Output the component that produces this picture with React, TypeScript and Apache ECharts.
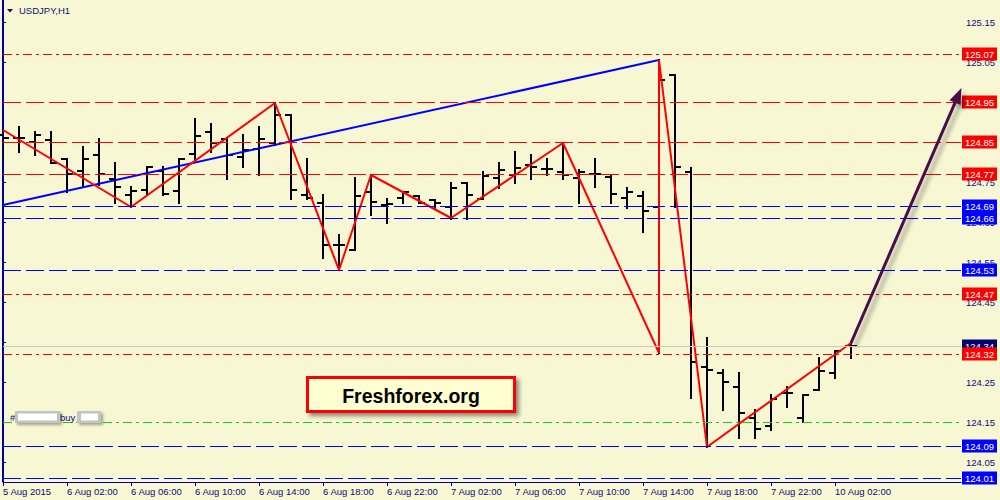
import React, { useEffect, useRef } from "react";
import * as echarts from "echarts";

// ---- data ----
const opens = [124.868,124.86,124.85,124.855,124.808,124.778,124.818,124.758,124.718,124.73,124.778,124.728,124.82,124.875,124.858,124.813,124.833,124.848,124.918,124.718,124.698,124.593,124.58,124.725,124.693,124.71,124.715,124.705,124.688,124.748,124.708,124.76,124.768,124.793,124.783,124.775,124.76,124.77,124.763,124.71,124.715,124.688,125.018,124.775,124.288,124.273,124.238,124.16,124.14,124.223,124.16,124.23,124.273,124.34];
const highs = [124.885,124.888,124.875,124.875,124.808,124.838,124.858,124.798,124.738,124.788,124.788,124.808,124.908,124.895,124.858,124.868,124.888,124.948,124.918,124.808,124.718,124.618,124.76,124.768,124.708,124.725,124.715,124.705,124.748,124.748,124.775,124.798,124.825,124.818,124.808,124.848,124.78,124.808,124.768,124.735,124.725,125.055,125.018,124.785,124.36,124.28,124.273,124.18,124.218,124.238,124.218,124.31,124.328,124.348];
const lows = [124.805,124.825,124.818,124.798,124.725,124.738,124.743,124.698,124.688,124.718,124.718,124.698,124.805,124.825,124.758,124.788,124.768,124.843,124.708,124.708,124.56,124.53,124.58,124.668,124.648,124.698,124.698,124.685,124.658,124.658,124.708,124.735,124.748,124.758,124.768,124.758,124.698,124.738,124.698,124.685,124.625,124.323,124.688,124.21,124.088,124.18,124.11,124.11,124.13,124.188,124.15,124.23,124.26,124.31];
const closes = [124.86,124.86,124.868,124.798,124.77,124.808,124.77,124.738,124.728,124.788,124.72,124.808,124.865,124.848,124.818,124.83,124.858,124.918,124.73,124.71,124.593,124.593,124.715,124.7,124.695,124.725,124.698,124.698,124.735,124.718,124.765,124.78,124.785,124.788,124.783,124.768,124.775,124.77,124.72,124.725,124.678,125.005,124.788,124.3,124.28,124.25,124.173,124.133,124.208,124.223,124.218,124.278,124.328,124.34];

const xTickIndex = [0,4,8,12,16,20,24,28,32,36,40,44,48,52];
const xTickLabels = ["5 Aug 2015","6 Aug 02:00","6 Aug 06:00","6 Aug 10:00","6 Aug 14:00","6 Aug 18:00","6 Aug 22:00","7 Aug 02:00","7 Aug 06:00","7 Aug 10:00","7 Aug 14:00","7 Aug 18:00","7 Aug 22:00","10 Aug 02:00"];
const yTickValues = [124.05,124.15,124.25,124.35,124.45,124.55,124.65,124.75,124.85,124.95,125.05,125.15];

const zigzagIdx = [0,8,17,21,23,28,35,41,41,44,53];
const zigzagPrice = [124.88,124.6875,124.9475,124.53,124.7675,124.66,124.8475,124.3225,125.055,124.0875,124.3475];

const trendIdx = [0,41];
const trendPrice = [124.6925,125.055];

const arrowIdx = [53,59.9];
const arrowPrice = [124.3475,124.985];

const levelPrices = [125.07,124.95,124.85,124.77,124.69,124.66,124.53,124.47,124.34,124.32,124.15,124.09,124.01];
const levelKinds = ["redDashDot","redDash","redDash","redDash","blueDash","blueDash","blueDash","redDashDot","current","redDashDot","greenDashDot","blueDash","blueDash"];

const NAVY = "#0c0c7a";
const BG = "#F7F7D4";
const FONT = "'Liberation Sans', Arial, sans-serif";
const PURPLE = "#4a104a";

function levelStyle(kind: string) {
  switch (kind) {
    case "redDashDot": return { color: "#ff0000", width: 1, type: [9, 4, 3, 4] as any };
    case "redDash": return { color: "#ff0000", width: 1, type: [18, 5] as any };
    case "blueDash": return { color: "#0000ff", width: 1, type: [18, 5] as any };
    case "greenDashDot": return { color: "#1ec81e", width: 1, type: [9, 4, 3, 4] as any };
    default: return { color: "#c8c8c8", width: 1, type: "solid" as any };
  }
}
function boxKey(kind: string) {
  if (kind.startsWith("red")) return "r";
  if (kind.startsWith("blue")) return "b";
  if (kind === "current") return "n";
  return "";
}

export default function App() {
  const ref = useRef<HTMLDivElement>(null);
  useEffect(() => {
    if (!ref.current) return;
    const chart = echarts.init(ref.current, undefined, { renderer: "svg" });

    const barData = opens.map((o, i) => [i, o, highs[i], lows[i], closes[i]]);
    const boxLevels = levelPrices.filter((_, k) => boxKey(levelKinds[k]) !== "");
    const boxStyle = (bg: string) => ({
      backgroundColor: bg, color: "#ffffff", fontSize: 9.5, fontFamily: FONT,
      width: 31, align: "center" as const, padding: [2, 2, 1, 2], lineHeight: 10,
    });

    chart.setOption({
      animation: false,
      backgroundColor: BG,
      grid: { left: 3, right: 39, top: 0, bottom: 18, containLabel: false },
      xAxis: {
        type: "value", min: 0, max: 59.875,
        splitLine: { show: false },
        axisLine: { show: true, lineStyle: { color: "#0000a0", width: 1 } },
        axisTick: { show: true, length: 4, customValues: xTickIndex, lineStyle: { color: "#0000a0" } },
        axisLabel: {
          customValues: xTickIndex, align: "left", margin: 4,
          color: NAVY, fontSize: 9.5, fontFamily: FONT,
          formatter: (v: number) => {
            const k = xTickIndex.indexOf(Math.round(v));
            return k >= 0 ? xTickLabels[k] : "";
          },
        },
      },
      yAxis: [
        {
          type: "value", position: "right", min: 124.0, max: 125.205,
          splitLine: { show: false },
          axisLine: { show: true, lineStyle: { color: "#0000a0", width: 1 } },
          axisTick: { show: true, length: 3, customValues: yTickValues, lineStyle: { color: "#0000a0" } },
          axisLabel: {
            customValues: yTickValues, margin: 5, color: NAVY, fontSize: 9.5, fontFamily: FONT,
            formatter: (v: number) => v.toFixed(2),
          },
        },
        {
          type: "value", position: "right", min: 124.0, max: 125.205,
          splitLine: { show: false },
          axisLine: { show: false }, axisTick: { show: false },
          axisLabel: {
            customValues: boxLevels, margin: 1,
            formatter: (v: number) => {
              const k = levelPrices.findIndex((p) => Math.abs(p - v) < 1e-6);
              const key = k >= 0 ? boxKey(levelKinds[k]) : "";
              return key ? `{${key}|${v.toFixed(2)}}` : "";
            },
            rich: {
              r: boxStyle("#ff0000"),
              b: boxStyle("#0000ff"),
              n: boxStyle("#000070"),
            },
          },
        },
      ],
      series: [
        {
          name: "levels", type: "line", z: 1, data: [[0, 124.5]], showSymbol: false,
          lineStyle: { opacity: 0 }, silent: true,
          markLine: {
            silent: true, symbol: ["none", "none"], label: { show: false },
            data: levelPrices.map((p, k) => ({ yAxis: p, lineStyle: levelStyle(levelKinds[k]) })),
          },
        },
        {
          name: "bars", type: "custom", z: 2, data: barData,
          encode: { x: 0, y: [1, 2, 3, 4] },
          renderItem: (params: any, api: any) => {
            const i = api.value(0);
            const o = api.coord([i, api.value(1)]);
            const h = api.coord([i, api.value(2)]);
            const l = api.coord([i, api.value(3)]);
            const c = api.coord([i, api.value(4)]);
            const x = Math.round(h[0]);
            const st = { stroke: "#000000", lineWidth: 2 };
            return {
              type: "group",
              children: [
                { type: "line", shape: { x1: x, y1: Math.round(h[1]) - 1, x2: x, y2: Math.round(l[1]) + 1 }, style: st },
                { type: "line", shape: { x1: x - 6, y1: Math.round(o[1]), x2: x, y2: Math.round(o[1]) }, style: st },
                { type: "line", shape: { x1: x, y1: Math.round(c[1]), x2: x + 6, y2: Math.round(c[1]) }, style: st },
              ],
            };
          },
        },
        {
          name: "trend", type: "line", z: 3, showSymbol: false, silent: true,
          data: trendIdx.map((x, k) => [x, trendPrice[k]]),
          lineStyle: { color: "#0000ff", width: 2 },
        },
        {
          name: "zigzag", type: "line", z: 4, showSymbol: false, silent: true,
          data: zigzagIdx.map((x, k) => [x, zigzagPrice[k]]),
          lineStyle: { color: "#ff0000", width: 2 },
        },
        {
          name: "arrow", type: "custom", z: 5, silent: true, clip: false,
          data: [[arrowIdx[0], arrowPrice[0], arrowIdx[1], arrowPrice[1]]],
          encode: { x: [0, 2], y: [1, 3] },
          renderItem: (params: any, api: any) => {
            const a = api.coord([api.value(0), api.value(1)]);
            const b = api.coord([api.value(2), api.value(3)]);
            const dx = b[0] - a[0], dy = b[1] - a[1];
            const len = Math.sqrt(dx * dx + dy * dy);
            const ux = dx / len, uy = dy / len;
            const hl = 16, hw = 6;
            const bx = b[0] - ux * hl, by = b[1] - uy * hl;
            const shadow = { shadowColor: "rgba(0,0,0,0.35)", shadowBlur: 4, shadowOffsetX: 4, shadowOffsetY: 4 };
            return {
              type: "group",
              children: [
                { type: "line", shape: { x1: a[0], y1: a[1], x2: bx + ux * 2, y2: by + uy * 2 }, style: { stroke: PURPLE, lineWidth: 3, ...shadow } },
                {
                  type: "polygon",
                  shape: { points: [[b[0], b[1]], [bx - uy * hw, by + ux * hw], [bx + uy * hw, by - ux * hw]] },
                  style: { fill: PURPLE, ...shadow },
                },
              ],
            };
          },
        },
      ],
      graphic: [
        { type: "line", shape: { x1: 2.5, y1: 0, x2: 2.5, y2: 482 }, style: { stroke: "#0000a0", lineWidth: 1 }, z: 10 },
        { type: "polygon", shape: { points: [[7, 9], [13, 9], [10, 12.5]] }, style: { fill: NAVY }, z: 10 },
        { type: "text", x: 19, y: 10, style: { text: "USDJPY,H1", fill: NAVY, fontSize: 9.5, fontFamily: FONT, verticalAlign: "middle" }, z: 10 },
        {
          type: "rect", shape: { x: 307.5, y: 377.5, width: 207, height: 34 },
          style: { fill: "#FFFFD2", stroke: "#ff0000", lineWidth: 3, shadowColor: "rgba(0,0,0,0.45)", shadowBlur: 4, shadowOffsetX: 3, shadowOffsetY: 3 }, z: 10,
        },
        {
          type: "text", x: 411, y: 396,
          style: { text: "Freshforex.org", fill: "#000000", fontSize: 19.5, fontWeight: "bold", fontFamily: FONT, align: "center", verticalAlign: "middle" }, z: 11,
        },
        { type: "text", x: 10, y: 417, style: { text: "#", fill: NAVY, fontSize: 9.5, fontFamily: FONT, verticalAlign: "middle" }, z: 10 },
        {
          type: "rect", shape: { x: 15, y: 411, width: 45, height: 12 },
          style: { fill: "#c4c4c4", shadowColor: "rgba(0,0,0,0.35)", shadowBlur: 3, shadowOffsetX: 2, shadowOffsetY: 2 }, z: 10,
        },
        { type: "rect", shape: { x: 18, y: 413.5, width: 39, height: 7 }, style: { fill: "#ffffff" }, z: 11 },
        { type: "text", x: 60, y: 417, style: { text: "buy", fill: NAVY, fontSize: 9.5, fontFamily: FONT, verticalAlign: "middle" }, z: 10 },
        {
          type: "rect", shape: { x: 77, y: 411, width: 24, height: 12 },
          style: { fill: "#c4c4c4", shadowColor: "rgba(0,0,0,0.35)", shadowBlur: 3, shadowOffsetX: 2, shadowOffsetY: 2 }, z: 10,
        },
        { type: "rect", shape: { x: 81, y: 413.5, width: 17, height: 7 }, style: { fill: "#ffffff" }, z: 11 },
      ],
    });
    return () => chart.dispose();
  }, []);
  return (
    <div
      ref={ref}
      style={{ position: "fixed", left: 0, top: 0, width: 1000, height: 500, background: BG }}
    />
  );
}
